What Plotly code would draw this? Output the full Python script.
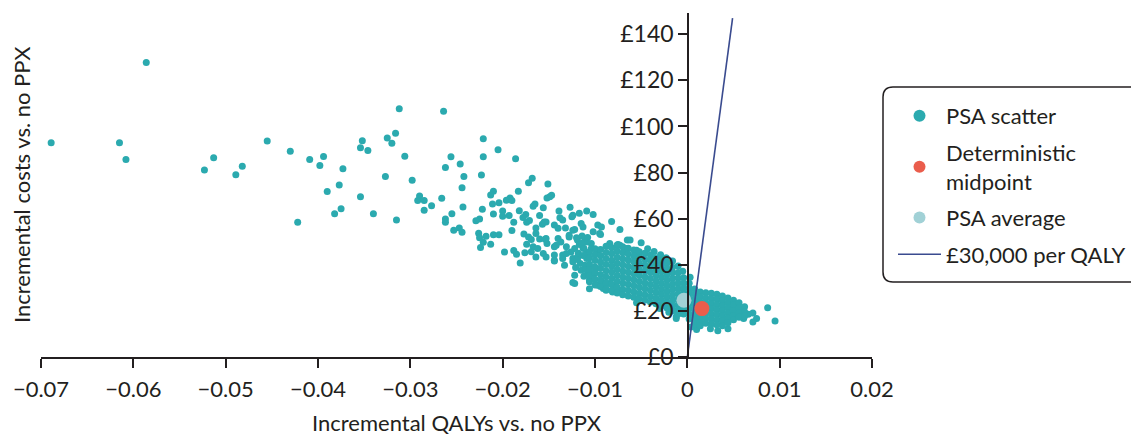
import plotly.graph_objects as go

# ---------------- data ----------------
# PSA scatter: sparse / outlying samples (incremental QALYs, incremental cost £)
psa_qaly = [
    -0.0689, -0.0586, -0.0615, -0.0608, -0.0523, -0.0513, -0.0489, -0.0482, -0.0455, -0.0430,
    -0.0422, -0.0409, -0.0398, -0.0394, -0.0390, -0.0382, -0.0377, -0.0375, -0.0373, -0.0354,
    -0.0352, -0.0346, -0.0354, -0.0340, -0.0327, -0.0325, -0.0320, -0.0316, -0.0312, -0.0306,
    -0.0315, -0.0298, -0.0290, -0.0292, -0.0285, -0.0285, -0.0277, -0.0266, -0.0264, -0.0262,
    -0.0256, -0.0262, -0.0262, -0.0255, -0.0253, -0.0247, -0.0244, -0.0246, -0.0242, -0.0244,
    -0.0243, -0.0221, -0.0221, -0.0223, -0.0205, -0.0186,
    -0.0172, -0.0168, -0.0151, -0.0183, -0.0210, -0.0213, -0.0152, -0.0222, -0.0211, -0.0204,
    -0.0196, -0.0192, -0.0190, -0.0200, -0.0193, -0.0200, -0.0210, -0.0182, -0.0175, -0.0178,
    -0.0167, -0.0165, -0.0156, -0.0160, -0.0225, -0.0229, -0.0188, -0.0174, -0.0190, -0.0177,
    -0.0164, -0.0157, -0.0153, -0.0226, -0.0218, -0.0210, -0.0204, -0.0225, -0.0221, -0.0224,
    -0.0213, -0.0198, -0.0188, -0.0185, -0.0181, -0.0172, -0.0169, -0.0160, -0.0174, -0.0167,
    -0.0176, -0.0169, -0.0162, -0.0156, -0.0152, -0.0164, -0.0153,
    -0.0147, -0.0139, -0.0127, -0.0117, -0.0124, -0.0109, -0.0102, -0.0082, -0.0073, -0.0171,
    -0.0144, -0.0135, -0.0132, -0.0122, -0.0115, -0.0097, -0.0095, -0.0084, -0.0075, -0.0065,
    -0.0062, -0.0055, -0.0052, -0.0164, -0.0153, -0.0144, -0.0137, -0.0128, -0.0119, -0.0111,
    -0.0104, -0.0144, -0.0135, -0.0124, -0.0122, -0.0108, -0.0093, -0.0088, -0.0078, -0.0099,
    -0.0149, -0.0138, -0.0125, -0.0155, -0.0140, -0.0124, -0.0113, -0.0102, -0.0093, -0.0128,
    -0.0120, -0.0114, -0.0109, -0.0094, -0.0084, -0.0073, -0.0066, -0.0154, -0.0140, -0.0142,
    -0.0131, -0.0122, -0.0113, -0.0104, -0.0097, -0.0144, -0.0135, -0.0144, -0.0133, -0.0124,
    -0.0119, -0.0109, -0.0122, -0.0124, -0.0115, -0.0106, -0.0102, -0.0097, -0.0091, -0.0086,
    -0.0081, -0.0072,
    -0.0050, -0.0043, -0.0036, -0.0029, -0.0023, -0.0016, -0.0010, -0.0005, 0.0003, -0.0055,
    -0.0030, -0.0020, -0.0012, -0.0012, 0.0010, 0.0044, 0.0004, 0.0055, 0.0071, 0.0075,
    0.0071, 0.0087, 0.0095, 0.0061, 0.0054, 0.0057, 0.0051, 0.0066, 0.0025, 0.0033,
    -0.0118, -0.0116, -0.0113, -0.0111, -0.0112, -0.0117, -0.0109, -0.0110, -0.0126, -0.0121,
    -0.0131, -0.0114, -0.0108, -0.0119, -0.0112, -0.0106,
]
psa_cost = [
    92.9, 127.7, 92.9, 85.7, 81.1, 86.4, 79.0, 82.7, 93.7, 89.2,
    58.4, 85.7, 83.1, 87.0, 71.8, 62.1, 74.6, 64.3, 81.6, 90.8,
    93.8, 89.6, 69.5, 62.1, 78.3, 95.0, 92.7, 97.0, 107.7, 87.1,
    59.4, 76.7, 69.8, 67.9, 67.9, 63.7, 65.6, 68.8, 106.6, 82.2,
    86.8, 59.8, 58.4, 62.1, 55.0, 56.0, 54.1, 83.7, 78.3, 73.4,
    65.1, 94.7, 86.8, 78.9, 89.9, 86.0,
    75.6, 77.5, 75.0, 71.9, 71.9, 70.3, 69.0, 64.1, 66.4, 66.9,
    68.0, 69.0, 67.9, 63.3, 61.4, 61.0, 62.0, 63.4, 61.8, 60.5,
    65.4, 66.4, 64.7, 61.4, 59.9, 59.1, 58.4, 58.4, 54.9, 53.4,
    55.9, 57.6, 58.5, 53.7, 52.4, 53.0, 53.0, 51.7, 49.8, 47.5,
    48.9, 45.5, 46.2, 44.6, 40.8, 52.1, 51.0, 51.2, 48.9, 47.8,
    45.2, 45.6, 47.1, 44.9, 49.2, 43.4, 43.4,
    70.2, 63.3, 64.9, 62.3, 61.5, 63.3, 61.8, 58.8, 55.3, 59.2,
    57.2, 59.4, 56.0, 55.3, 57.9, 57.2, 53.6, 49.2, 48.8, 50.7,
    50.7, 46.3, 44.9, 53.6, 51.4, 47.8, 49.9, 52.1, 50.7, 51.4,
    49.2, 42.0, 44.2, 42.7, 31.9, 36.2, 32.6, 29.0, 30.7, 38.4,
    69.5, 60.4, 60.8, 58.6, 55.8, 55.0, 56.4, 54.3, 56.4, 52.8,
    51.7, 52.5, 49.9, 53.1, 48.5, 48.5, 47.1, 51.1, 51.4, 48.5,
    47.8, 47.1, 47.3, 47.1, 46.3, 44.2, 42.7, 41.6, 39.8, 41.3,
    43.4, 42.7, 35.5, 32.3, 37.6, 33.3, 36.2, 31.1, 29.7, 31.9,
    28.2, 29.0,
    49.5, 47.0, 45.8, 44.4, 43.0, 41.6, 39.5, 37.2, 34.6, 23.5,
    21.0, 19.4, 17.5, 16.7, 11.9, 12.3, 13.0, 22.4, 19.1, 16.7,
    15.2, 21.4, 15.6, 16.7, 22.8, 19.8, 23.2, 18.5, 12.2, 11.4,
    45.0, 40.5, 44.0, 39.8, 35.0, 48.8, 45.2, 38.0, 45.5, 38.8,
    44.9, 49.3, 51.8, 42.3, 47.1, 29.6,
]

# PSA scatter: dense core, one column of samples per QALY value
core_qaly = [
    -0.0106, -0.0100, -0.0094, -0.0088, -0.0082, -0.0076, -0.0070, -0.0064, -0.0058, -0.0052,
    -0.0046, -0.0040, -0.0034, -0.0028, -0.0022, -0.0016, -0.0010, -0.0004, 0.0002, 0.0008,
    0.0014, 0.0020, 0.0026, 0.0032, 0.0038, 0.0044, 0.0050, 0.0056, 0.0062,
]
core_costs = [
    [45.5, 43.0, 40.2, 37.9, 35.1, 32.6],
    [47.0, 44.3, 41.8, 39.0, 36.4, 33.7, 31.2],
    [46.6, 43.9, 41.2, 38.6, 35.8, 33.4, 30.6],
    [48.0, 45.3, 42.7, 40.1, 37.4, 34.8, 32.1, 29.5],
    [47.4, 44.8, 42.0, 39.5, 36.9, 34.2, 31.6, 28.9],
    [48.6, 46.0, 43.3, 40.7, 38.1, 35.5, 32.9, 30.2, 27.8],
    [47.8, 45.2, 42.6, 40.0, 37.3, 34.7, 32.1, 29.4, 27.0],
    [47.2, 44.7, 42.1, 39.4, 36.8, 34.2, 31.5, 28.9, 26.5],
    [46.4, 43.8, 41.3, 38.7, 36.1, 33.5, 30.9, 28.3, 25.9],
    [45.7, 43.1, 40.6, 38.0, 35.4, 32.8, 30.2, 27.6, 25.3],
    [45.0, 42.4, 39.9, 37.3, 34.7, 32.1, 29.6, 27.0, 24.6],
    [44.2, 41.7, 39.1, 36.6, 34.0, 31.4, 28.9, 26.3, 23.9],
    [43.1, 40.6, 38.1, 35.6, 33.0, 30.5, 28.0, 25.5, 23.1],
    [42.0, 39.6, 37.0, 34.5, 32.0, 29.5, 27.0, 24.6, 22.2],
    [40.8, 38.3, 35.8, 33.4, 30.9, 28.4, 26.0, 23.6, 21.3],
    [38.9, 36.5, 34.1, 31.7, 29.3, 26.9, 24.5, 22.1, 20.0],
    [36.6, 34.3, 32.0, 29.7, 27.4, 25.0, 22.7, 20.5, 18.6],
    [34.4, 32.1, 29.8, 27.6, 25.3, 23.0, 20.8, 18.6],
    [32.0, 29.8, 27.6, 25.4, 23.1, 20.9, 18.7, 16.5],
    [29.5, 27.3, 25.1, 22.9, 20.7, 18.5, 16.3, 14.4],
    [28.2, 26.0, 23.8, 21.6, 19.4, 17.2, 15.0, 13.6],
    [27.9, 25.6, 23.4, 21.2, 19.0, 16.8, 14.6],
    [27.6, 25.3, 23.1, 20.9, 18.7, 16.5, 14.3],
    [27.2, 25.0, 22.8, 20.6, 18.4, 16.2, 14.0],
    [26.5, 24.3, 22.1, 19.9, 17.7, 15.5, 13.6],
    [25.6, 23.4, 21.2, 19.0, 16.8, 14.9],
    [24.6, 22.4, 20.2, 18.0, 16.2],
    [23.5, 21.3, 19.1, 17.2],
    [21.8, 19.6, 17.8],
]

det_qaly = [0.00158]
det_cost = [21.0]
avg_qaly = [-0.00037]
avg_cost = [24.6]

wtp_label = "£30,000 per QALY"
wtp_qaly = [0.0, 0.0049]
wtp_cost = [0.0, 147.0]

x_range = [-0.07, 0.02]
y_range = [0, 149.2]

# ---------------- build ----------------
all_qaly = list(psa_qaly)
all_cost = list(psa_cost)
for q, costs in zip(core_qaly, core_costs):
    for c in costs:
        all_qaly.append(q)
        all_cost.append(c)

TEAL = "#2BAAAF"
RED = "#EA5D4C"
LIGHT = "#A1D1D6"
NAVY = "#3A4B8F"
INK = "#231F20"
FONT = "Lato, 'Open Sans', sans-serif"

fig = go.Figure()
# plotted marks (legend entries supplied by the legend-only proxies below)
fig.add_trace(go.Scatter(
    x=all_qaly, y=all_cost, mode="markers", name="PSA scatter",
    marker=dict(color=TEAL, size=7, line=dict(width=0)), showlegend=False,
))
fig.add_trace(go.Scatter(
    x=wtp_qaly, y=wtp_cost, mode="lines", name=wtp_label,
    line=dict(color=NAVY, width=1.6), showlegend=False,
))
fig.add_trace(go.Scatter(
    x=avg_qaly, y=avg_cost, mode="markers", name="PSA average",
    marker=dict(color=LIGHT, size=15, line=dict(width=0)), showlegend=False,
))
fig.add_trace(go.Scatter(
    x=det_qaly, y=det_cost, mode="markers", name="Deterministic midpoint",
    marker=dict(color=RED, size=15, line=dict(width=0)), showlegend=False,
))

# legend entries
legend_items = [
    ("PSA scatter", "markers", TEAL),
    ("Deterministic<br>midpoint", "markers", RED),
    ("PSA average", "markers", LIGHT),
    (wtp_label, "lines", NAVY),
]
for i, (label, mode, col) in enumerate(legend_items):
    fig.add_trace(go.Scatter(
        x=[None], y=[None], mode=mode, name=label,
        marker=dict(color=col, size=12, line=dict(width=0)),
        line=dict(color=col, width=1.6),
        legendgroup=f"g{i}", legendrank=i + 1, showlegend=True,
    ))

W, H = 1131, 436
ml, mr, mt, mb = 41, 259, 13, 79
pw, ph = W - ml - mr, H - mt - mb

def px_x(p):
    return (p - ml) / pw

def px_y(p):
    return (H - mb - p) / ph

# rounded legend frame
x0, x1 = px_x(883), px_x(1146)
y0, y1 = px_y(282), px_y(87)
rx, ry = 10 / pw, 10 / ph
path = (f"M {x0+rx},{y1} L {x1-rx},{y1} Q {x1},{y1} {x1},{y1-ry} "
        f"L {x1},{y0+ry} Q {x1},{y0} {x1-rx},{y0} L {x0+rx},{y0} "
        f"Q {x0},{y0} {x0},{y0+ry} L {x0},{y1-ry} Q {x0},{y1} {x0+rx},{y1} Z")

fig.update_layout(
    width=W, height=H,
    margin=dict(l=ml, r=mr, t=mt, b=mb, autoexpand=False),
    paper_bgcolor="white", plot_bgcolor="white",
    font=dict(family=FONT, size=22, color=INK),
    showlegend=True,
    legend=dict(
        x=px_x(893), y=px_y(95), xanchor="left", yanchor="top",
        bgcolor="rgba(0,0,0,0)", borderwidth=0,
        font=dict(family=FONT, size=22, color=INK),
        itemwidth=43, tracegroupgap=5,
        traceorder="grouped",
    ),
    xaxis=dict(
        range=x_range, dtick=0.01, tick0=0, showgrid=False, zeroline=False,
        showline=True, linecolor=INK, linewidth=1.6,
        ticks="outside", ticklen=9, tickwidth=1.6, tickcolor=INK,
        ticklabelstandoff=3,
        tickfont=dict(family=FONT, size=22, color=INK),
    ),
    yaxis=dict(
        range=y_range, dtick=20, tick0=0, tickprefix="£",
        anchor="free", position=px_x(688),
        showgrid=False, zeroline=False,
        showline=True, linecolor=INK, linewidth=1.6,
        ticks="outside", ticklen=9, tickwidth=1.6, tickcolor=INK,
        tickfont=dict(family=FONT, size=23, color=INK),
    ),
    shapes=[dict(type="path", xref="paper", yref="paper", path=path,
                 line=dict(color=INK, width=1.5), fillcolor="rgba(0,0,0,0)")],
    annotations=[
        dict(text="Incremental QALYs vs. no PPX", xref="paper", yref="paper",
             x=0.5, y=px_y(423), xanchor="center", yanchor="middle",
             showarrow=False, font=dict(family=FONT, size=22, color=INK)),
        dict(text="Incremental costs vs. no PPX", xref="paper", yref="paper",
             x=px_x(21), y=0.5, xanchor="center", yanchor="middle", textangle=-90,
             showarrow=False, font=dict(family=FONT, size=22, color=INK)),
    ],
    hovermode=False,
)

fig.write_html(
    "out.html",
    config={"displayModeBar": False},
    post_script="document.body.style.margin='0';document.body.style.overflow='hidden';",
)
